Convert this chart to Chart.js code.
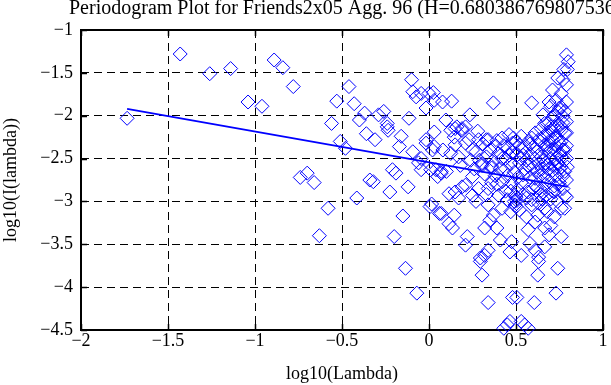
<!DOCTYPE html>
<html>
<head>
<meta charset="utf-8">
<script src="https://cdn.jsdelivr.net/npm/chart.js@4"></script>
<style>
html, body { margin: 0; padding: 0; background: #fff; }
#wrap { width: 611px; height: 385px; }
</style>
</head>
<body>
<div id="wrap"><canvas id="periodogram"></canvas></div>
<script>
var plotTitle = "Periodogram Plot for Friends2x05 Agg. 96 (H=0.680386769807536)";
var xLabel = "log10(Lambda)";
var yLabel = "log10(I(lambda))";
var xTicks = [-2, -1.5, -1, -0.5, 0, 0.5, 1];
var yTicks = [-4.5, -4, -3.5, -3, -2.5, -2, -1.5, -1];

// [log10(lambda), log10(I(lambda))]
var periodogramPoints = [
  [-1.735,-2.03],[-1.43,-1.28],[-1.26,-1.51],[-1.14,-1.45],[-1.04,-1.84],[-0.96,-1.89],
  [-0.89,-1.35],[-0.84,-1.44],[-0.78,-1.66],[-0.74,-2.72],[-0.70,-2.67],[-0.66,-2.78],
  [-0.63,-3.40],[-0.58,-3.08],[-0.56,-2.09],[-0.53,-1.83],[-0.51,-2.30],[-0.48,-2.38],
  [-0.46,-1.66],[-0.43,-1.86],[-0.415,-2.96],[-0.40,-2.05],[-0.37,-1.97],[-0.36,-2.21],
  [-0.34,-2.75],[-0.32,-2.77],[-0.31,-2.28],[-0.29,-1.99],[-0.26,-1.95],[-0.24,-2.13],
  [-0.235,-2.17],[-0.24,-2.09],[-0.225,-2.89],[-0.21,-2.63],[-0.20,-3.41],[-0.19,-2.67],
  [-0.17,-2.36],[-0.16,-2.24],[-0.15,-3.17],[-0.135,-3.78],[-0.12,-2.83],[-0.115,-2.03],
  [-0.10,-1.58],[-0.093,-2.42],[-0.093,-1.72],[-0.074,-1.78],[-0.07,-4.07],[-0.06,-2.55],
  [-0.045,-1.74],[-0.045,-2.50],[-0.045,-2.63],[-0.017,-1.91],[-0.017,-2.28],[-0.017,-2.32],
  [0.0,-1.74],[0.006,-3.06],[0.01,-2.63],[0.015,-3.03],[0.02,-2.40],[0.025,-1.73],
  [0.03,-1.82],[0.03,-2.19],[0.03,-2.36],[0.04,-2.63],[0.05,-2.71],[0.06,-3.14],
  [0.07,-2.67],[0.07,-3.14],[0.078,-1.84],[0.08,-2.40],[0.07,-2.65],[0.10,-2.65],
  [0.097,-2.05],[0.115,-2.91],[0.115,-3.26],[0.125,-2.44],[0.125,-2.17],[0.13,-1.83],
  [0.135,-3.31],[0.145,-2.25],[0.145,-3.16],[0.15,-2.34],[0.15,-2.89],[0.15,-2.15],
  [0.16,-2.13],[0.17,-2.48],[0.17,-2.96],[0.18,-2.58],[0.19,-2.17],[0.19,-2.83],
  [0.19,-2.15],[0.21,-2.32],[0.21,-2.81],[0.21,-2.13],[0.21,-3.51],[0.22,-3.41],
  [0.23,-2.28],[0.235,-1.99],[0.24,-2.52],[0.25,-2.40],[0.25,-2.71],[0.25,-2.93],
  [0.26,-2.62],[0.27,-2.42],[0.27,-3.00],[0.28,-2.18],[0.285,-2.28],[0.285,-2.85],
  [0.29,-2.52],[0.295,-3.66],[0.295,-3.70],[0.305,-2.56],[0.305,-2.58],[0.305,-3.86],
  [0.31,-2.33],[0.32,-3.63],[0.32,-3.31],[0.32,-2.68],[0.33,-2.28],[0.33,-2.48],
  [0.33,-2.92],[0.34,-2.28],[0.34,-2.85],[0.34,-3.04],[0.34,-3.57],[0.34,-4.18],
  [0.35,-3.22],[0.35,-2.40],[0.36,-2.59],[0.36,-2.61],[0.36,-2.78],[0.37,-1.85],
  [0.37,-2.52],[0.37,-3.16],[0.38,-2.36],[0.38,-2.70],[0.39,-2.29],[0.39,-2.80],
  [0.39,-3.31],[0.40,-2.44],[0.40,-2.93],[0.41,-2.62],[0.41,-3.45],[0.42,-2.26],
  [0.42,-2.50],[0.42,-2.77],[0.42,-3.08],[0.43,-2.35],[0.43,-4.48],[0.44,-2.50],
  [0.44,-2.62],[0.44,-2.88],[0.45,-2.70],[0.45,-2.98],[0.45,-4.44],[0.455,-2.38],
  [0.46,-2.22],[0.46,-2.46],[0.465,-4.40],[0.465,-3.59],[0.47,-2.56],[0.47,-2.88],
  [0.47,-3.12],[0.475,-2.79],[0.475,-3.47],[0.48,-2.32],[0.48,-2.43],[0.48,-4.12],
  [0.485,-2.26],[0.49,-2.66],[0.49,-3.00],[0.495,-2.93],[0.495,-3.04],[0.50,-2.30],
  [0.50,-2.95],[0.50,-3.06],[0.505,-2.46],[0.505,-2.99],[0.505,-4.12],[0.51,-2.72],
  [0.51,-2.86],[0.52,-2.34],[0.52,-2.55],[0.52,-3.10],[0.53,-2.24],[0.53,-2.50],
  [0.53,-2.78],[0.53,-3.63],[0.53,-4.40],[0.54,-2.46],[0.54,-2.69],[0.54,-2.92],
  [0.55,-2.37],[0.55,-2.62],[0.55,-4.44],[0.56,-2.52],[0.56,-2.96],[0.56,-3.18],
  [0.57,-2.30],[0.57,-2.58],[0.57,-2.89],[0.57,-3.33],[0.57,-4.48],[0.58,-2.33],
  [0.58,-2.45],[0.58,-2.72],[0.58,-3.49],[0.59,-1.85],[0.59,-2.26],[0.59,-2.98],
  [0.59,-3.04],[0.60,-2.36],[0.60,-2.60],[0.60,-2.85],[0.605,-4.18],[0.61,-2.20],
  [0.61,-2.50],[0.61,-2.73],[0.61,-3.24],[0.61,-3.57],[0.62,-2.42],[0.62,-2.66],
  [0.62,-2.84],[0.625,-3.16],[0.625,-3.86],[0.63,-2.28],[0.63,-2.56],[0.63,-3.02],
  [0.63,-3.65],[0.63,-3.70],[0.64,-2.30],[0.64,-2.70],[0.64,-2.92],[0.645,-2.15],
  [0.645,-2.48],[0.645,-2.87],[0.65,-2.62],[0.65,-2.97],[0.655,-1.99],[0.66,-2.24],
  [0.66,-2.52],[0.66,-2.70],[0.665,-2.09],[0.665,-2.34],[0.665,-3.08],[0.665,-3.31],
  [0.665,-3.53],[0.67,-2.40],[0.67,-2.55],[0.67,-2.80],[0.675,-2.93],[0.68,-2.09],
  [0.68,-2.22],[0.68,-2.35],[0.68,-2.58],[0.68,-3.12],[0.685,-2.19],[0.685,-2.69],
  [0.69,-1.84],[0.69,-2.30],[0.69,-2.42],[0.69,-2.62],[0.69,-2.76],[0.69,-3.39],
  [0.70,-1.89],[0.70,-2.13],[0.70,-2.40],[0.70,-2.50],[0.70,-2.97],[0.70,-3.28],
  [0.71,-1.70],[0.71,-2.02],[0.71,-2.18],[0.71,-2.28],[0.71,-2.64],[0.71,-2.88],
  [0.72,-1.99],[0.72,-2.13],[0.72,-2.40],[0.72,-2.58],[0.72,-2.82],[0.72,-2.89],
  [0.72,-3.18],[0.73,-1.82],[0.73,-2.25],[0.73,-2.35],[0.73,-2.50],[0.73,-2.70],
  [0.73,-4.07],[0.74,-1.56],[0.74,-1.95],[0.74,-2.09],[0.74,-2.55],[0.74,-2.80],
  [0.74,-3.00],[0.74,-3.78],[0.75,-1.91],[0.75,-2.32],[0.75,-2.45],[0.75,-2.62],
  [0.75,-2.78],[0.76,-1.74],[0.76,-1.90],[0.76,-2.13],[0.76,-2.17],[0.76,-2.30],
  [0.76,-2.48],[0.76,-2.60],[0.76,-3.08],[0.76,-3.41],[0.77,-1.58],[0.77,-2.01],
  [0.77,-2.08],[0.77,-2.40],[0.77,-2.70],[0.77,-2.85],[0.775,-1.46],[0.78,-1.95],
  [0.78,-2.20],[0.78,-2.40],[0.78,-2.52],[0.78,-2.65],[0.78,-2.93],[0.78,-3.08],
  [0.79,-1.29],[0.79,-1.64],[0.79,-1.84],[0.79,-2.07],[0.79,-2.20],[0.79,-2.35],
  [0.79,-2.50],[0.79,-2.75],[0.79,-2.95],[0.795,-1.46],[0.795,-2.60],[0.80,-1.37]
];

// least-squares fit drawn over the points
var fitLambda = [-1.735, 0.797];
var fitValues = [-1.92, -2.83];

var blue = "#0000ff";
var serif = '"Liberation Serif", "DejaVu Serif", serif';

function minusSign(v) {
  return String(v).replace("-", "\u2212");
}

var frame = {
  id: "frame",
  beforeDatasetsDraw: function(chart) {
    var ctx = chart.ctx, a = chart.chartArea;
    var xs = chart.scales.x, ys = chart.scales.y;
    ctx.save();
    ctx.strokeStyle = "#000";
    ctx.lineWidth = 1.5;
    ctx.beginPath();
    xTicks.forEach(function(t) {
      var px = Math.round(xs.getPixelForValue(t)) + 0.5;
      ctx.moveTo(px, a.bottom); ctx.lineTo(px, a.bottom - 6);
      ctx.moveTo(px, a.top); ctx.lineTo(px, a.top + 6);
    });
    yTicks.forEach(function(t) {
      var py = Math.round(ys.getPixelForValue(t)) + 0.5;
      ctx.moveTo(a.left, py); ctx.lineTo(a.left + 6, py);
      ctx.moveTo(a.right, py); ctx.lineTo(a.right - 6, py);
    });
    ctx.stroke();
    ctx.lineWidth = 2;
    ctx.strokeRect(a.left, a.top, a.right - a.left, a.bottom - a.top);
    ctx.restore();
  },
  afterDraw: function(chart) {
    var ctx = chart.ctx;
    ctx.save();
    ctx.fillStyle = "#000";
    ctx.font = "20px " + serif;
    ctx.textBaseline = "alphabetic";
    ctx.textAlign = "left";
    ctx.fillText(plotTitle, 69, 14);
    ctx.restore();
  }
};

function hideEdges(ctx) {
  var s = ctx.scale;
  var v = ctx.tick ? ctx.tick.value : null;
  return (v === s.min || v === s.max) ? "rgba(0,0,0,0)" : "#000";
}

new Chart(document.getElementById("periodogram"), {
  type: "scatter",
  data: {
    datasets: [
      {
        type: "line",
        label: "fit",
        data: fitLambda.map(function(x, i) { return { x: x, y: fitValues[i] }; }),
        borderColor: blue,
        borderWidth: 1.8,
        pointRadius: 0,
        fill: false,
        order: 0
      },
      {
        label: "periodogram",
        data: periodogramPoints.map(function(p) { return { x: p[0], y: p[1] }; }),
        pointStyle: "rectRot",
        pointRadius: 7,
        pointBorderWidth: 1,
        pointBorderColor: blue,
        pointBackgroundColor: "rgba(0,0,0,0)",
        clip: false,
        order: 1
      }
    ]
  },
  options: {
    responsive: true,
    maintainAspectRatio: false,
    animation: false,
    events: [],
    layout: { padding: { top: 30, right: 2, left: 0, bottom: 0 } },
    plugins: {
      legend: { display: false },
      tooltip: { enabled: false },
      title: { display: false }
    },
    scales: {
      x: {
        type: "linear",
        min: -2,
        max: 1,
        afterBuildTicks: function(s) { s.ticks = xTicks.map(function(v) { return { value: v }; }); },
        afterFit: function(s) { s.height = 55; s.paddingLeft = 0; s.paddingRight = 0; },
        ticks: {
          color: "#000",
          padding: 0,
          maxRotation: 0,
          font: { family: serif, size: 18 },
          callback: function(v) { return minusSign(v); }
        },
        grid: { color: hideEdges, lineWidth: 1, drawTicks: false },
        border: { display: false, dash: [8, 5] },
        title: {
          display: true,
          text: xLabel,
          color: "#000",
          padding: { top: 0, bottom: 0 },
          font: { family: serif, size: 18 }
        }
      },
      y: {
        type: "linear",
        min: -4.5,
        max: -1,
        afterBuildTicks: function(s) { s.ticks = yTicks.map(function(v) { return { value: v }; }); },
        afterFit: function(s) { s.width = 81; s.paddingTop = 0; s.paddingBottom = 0; },
        ticks: {
          color: "#000",
          padding: 8,
          font: { family: serif, size: 18 },
          callback: function(v) { return minusSign(v); }
        },
        grid: { color: hideEdges, lineWidth: 1, drawTicks: false },
        border: { display: false, dash: [8, 5] },
        title: {
          display: true,
          text: yLabel,
          color: "#000",
          padding: { top: 0, bottom: 0 },
          font: { family: serif, size: 18 }
        }
      }
    }
  },
  plugins: [frame]
});
</script>
</body>
</html>
